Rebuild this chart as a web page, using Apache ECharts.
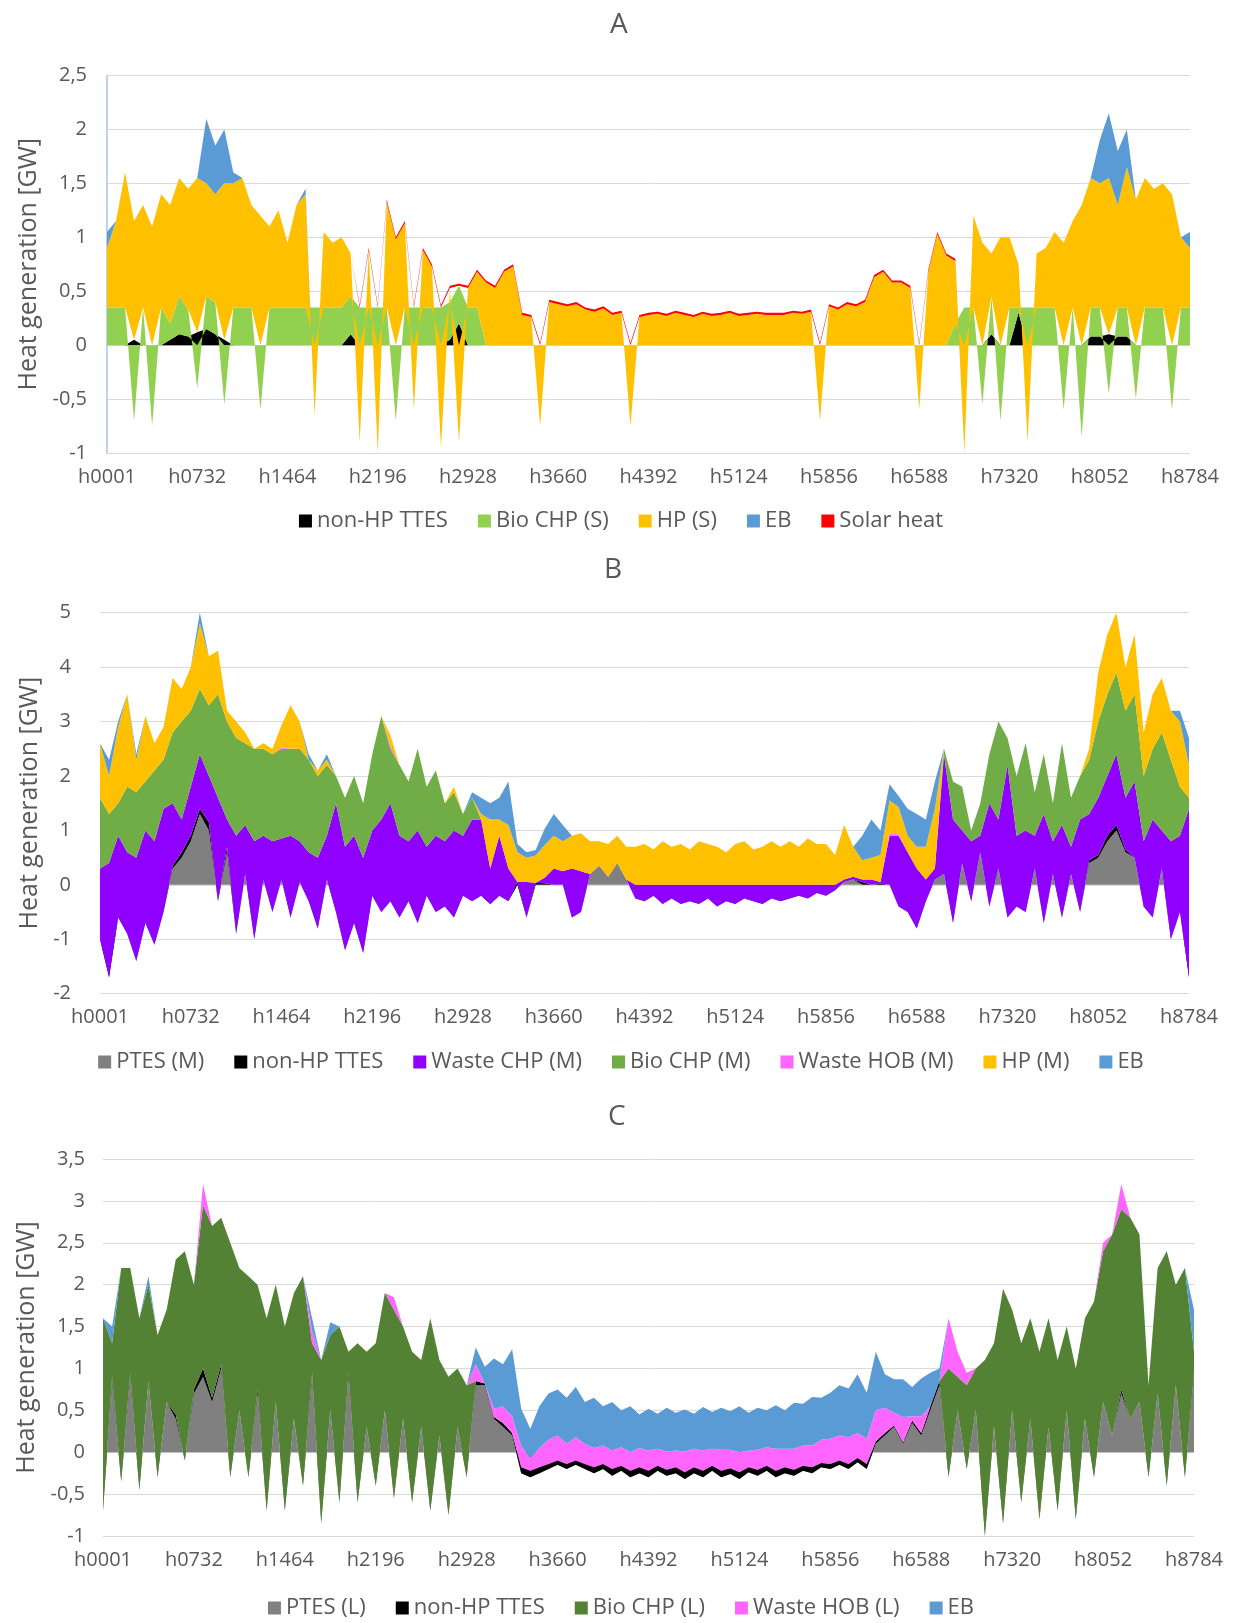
<!DOCTYPE html>
<html>
<head>
<meta charset="utf-8">
<script src="https://cdn.jsdelivr.net/npm/echarts@6/dist/echarts.min.js"></script>
<style>
  html, body { margin: 0; padding: 0; background: #fff; }
  #chart { width: 1242px; height: 1623px; }
</style>
</head>
<body>
<div id="chart"></div>
<script>
// x ticks every 732 h, 10 sampled points per tick step (121 points over the year)
const hourTicks = ['h0001', 'h0732', 'h1464', 'h2196', 'h2928', 'h3660', 'h4392',
  'h5124', 'h5856', 'h6588', 'h7320', 'h8052', 'h8784'];

// ---------- A (small system) ----------
const aTTES = [
  0, 0, 0, 0.05, 0, 0, 0, 0.05, 0.1, 0.08,
  0.12, 0.15, 0.1, 0.05, 0, 0, 0, 0, 0, 0,
  0, 0, 0, 0, 0, 0, 0, 0.1, 0, 0,
  0, 0, 0, 0, 0, 0, 0, 0, 0.05, 0.2,
  0, 0, 0, 0, 0, 0, 0, 0, 0, 0,
  0, 0, 0, 0, 0, 0, 0, 0, 0, 0,
  0, 0, 0, 0, 0, 0, 0, 0, 0, 0,
  0, 0, 0, 0, 0, 0, 0, 0, 0, 0,
  0, 0, 0, 0, 0, 0, 0, 0, 0, 0,
  0, 0, 0, 0, 0, 0, 0, 0, 0.1, 0,
  0, 0.3, 0, 0, 0, 0, 0, 0, 0, 0.08,
  0.08, 0.1, 0.08, 0.08, 0, 0, 0, 0, 0, 0,
  0
];
const aBio = [
  0.35, 0.35, 0.35, -0.7, 0.35, -0.75, 0.35, 0.15, 0.35, 0.25,
  -0.4, 0.3, 0.3, -0.55, 0.35, 0.35, 0.35, -0.6, 0.35, 0.35,
  0.35, 0.35, 0.35, 0.35, 0.35, 0.35, 0.35, 0.35, 0.35, 0.35,
  0.35, 0.35, -0.7, 0.35, 0.35, 0.35, 0.35, 0.35, 0.35, 0.35,
  0.35, 0.35, 0, 0, 0, 0, 0, 0, 0, 0,
  0, 0, 0, 0, 0, 0, 0, 0, 0, 0,
  0, 0, 0, 0, 0, 0, 0, 0, 0, 0,
  0, 0, 0, 0, 0, 0, 0, 0, 0, 0,
  0, 0, 0, 0, 0, 0, 0, 0, 0, 0,
  0, 0, 0, 0, 0.2, 0.35, 0.35, -0.55, 0.35, -0.7,
  0.35, 0.05, 0.35, 0.35, 0.35, 0.35, -0.6, 0.35, -0.85, 0.27,
  0.27, -0.45, 0.27, 0.27, -0.5, 0.35, 0.35, 0.35, -0.6, 0.35,
  0.35
];
const aHP = [
  0.55, 0.8, 1.25, 1.1, 0.95, 1.1, 1.05, 1.1, 1.1, 1.12,
  1.43, 1.05, 1.0, 1.45, 1.15, 1.2, 0.95, 1.2, 0.75, 0.9,
  0.6, 0.95, 1.05, -0.65, 0.7, 0.6, 0.65, 0.4, -0.9, 0.53,
  -1.0, 0.98, 0.98, 0.78, -0.6, 0.53, 0.38, -0.95, 0.13, -0.9,
  0.18, 0.33, 0.58, 0.53, 0.68, 0.73, 0.28, 0.26, -0.75, 0.4,
  0.38, 0.36, 0.38, 0.33, 0.31, 0.34, 0.28, 0.3, -0.75, 0.26,
  0.28, 0.29, 0.27, 0.3, 0.28, 0.26, 0.29, 0.27, 0.28, 0.3,
  0.27, 0.28, 0.29, 0.28, 0.28, 0.28, 0.3, 0.29, 0.31, -0.7,
  0.36, 0.33, 0.38, 0.36, 0.4, 0.63, 0.68, 0.58, 0.58, 0.53,
  -0.6, 0.68, 1.03, 0.83, 0.58, -1.0, 0.85, 0.95, 0.4, 1.0,
  0.65, 0.4, -0.9, 0.5, 0.55, 0.7, 0.95, 0.8, 1.3, 1.2,
  1.15, 1.45, 0.95, 1.3, 1.35, 1.2, 1.1, 1.15, 1.4, 0.65,
  0.55
];
const aEB = [
  0.15, 0, 0, 0, 0, 0, 0, 0, 0, 0,
  0, 0.6, 0.45, 0.5, 0.1, 0, 0, 0, 0, 0,
  0, 0, 0.05, 0, 0, 0, 0, 0, 0, 0,
  0, 0, 0, 0, 0, 0, 0, 0, 0, 0,
  0, 0, 0, 0, 0, 0, 0, 0, 0, 0,
  0, 0, 0, 0, 0, 0, 0, 0, 0, 0,
  0, 0, 0, 0, 0, 0, 0, 0, 0, 0,
  0, 0, 0, 0, 0, 0, 0, 0, 0, 0,
  0, 0, 0, 0, 0, 0, 0, 0, 0, 0,
  0, 0, 0, 0, 0, 0, 0, 0, 0, 0,
  0, 0, 0, 0, 0, 0, 0, 0, 0, 0,
  0.4, 0.6, 0.5, 0.35, 0, 0, 0, 0, 0, 0,
  0.15
];
const aSolar = [
  0, 0, 0, 0, 0, 0, 0, 0, 0, 0,
  0, 0, 0, 0, 0, 0, 0, 0, 0, 0,
  0, 0, 0, 0, 0, 0, 0, 0, 0.02, 0.02,
  0.02, 0.02, 0.02, 0.02, 0.02, 0.02, 0.02, 0.02, 0.02, 0.02,
  0.02, 0.02, 0.02, 0.02, 0.02, 0.02, 0.02, 0.02, 0.02, 0.02,
  0.02, 0.02, 0.02, 0.02, 0.02, 0.02, 0.02, 0.02, 0.02, 0.02,
  0.02, 0.02, 0.02, 0.02, 0.02, 0.02, 0.02, 0.02, 0.02, 0.02,
  0.02, 0.02, 0.02, 0.02, 0.02, 0.02, 0.02, 0.02, 0.02, 0.02,
  0.02, 0.02, 0.02, 0.02, 0.02, 0.02, 0.02, 0.02, 0.02, 0.02,
  0.02, 0.02, 0.02, 0.02, 0.02, 0, 0, 0, 0, 0,
  0, 0, 0, 0, 0, 0, 0, 0, 0, 0,
  0, 0, 0, 0, 0, 0, 0, 0, 0, 0,
  0
];

// ---------- B (medium system) ----------
const bPTES = [
  -1.0, -1.5, -0.6, -0.9, -1.4, -0.7, -1.1, -0.5, 0.3, 0.5,
  0.8, 1.3, 1.0, -0.3, 0.6, -0.9, 0.2, -1.0, 0.1, -0.5,
  0.1, -0.6, 0.05, -0.3, -0.8, 0.1, -0.5, -1.2, -0.7, -1.25,
  -0.2, -0.5, -0.3, -0.6, -0.3, -0.7, -0.2, -0.5, -0.4, -0.6,
  -0.2, -0.3, -0.2, -0.3, -0.2, -0.3, 0, -0.6, 0, 0,
  0, 0, -0.6, -0.5, 0.2, 0.35, 0.15, 0.4, 0.1, -0.25,
  -0.3, -0.2, -0.35, -0.25, -0.35, -0.3, -0.35, -0.25, -0.4, -0.3,
  -0.35, -0.25, -0.3, -0.35, -0.25, -0.3, -0.25, -0.2, -0.25, -0.15,
  -0.2, -0.1, 0.05, 0.1, 0, 0, 0, 0, -0.4, -0.5,
  -0.8, -0.3, 0.1, 0.2, -0.7, 0.4, -0.3, 0.6, -0.4, 0.3,
  -0.6, -0.4, -0.5, 0.3, -0.7, 0.2, -0.6, 0.2, -0.5, 0.4,
  0.5, 0.8, 1.0, 0.6, 0.5, -0.4, -0.6, 0.3, -1.0, -0.5,
  -1.6
];
const bTTES = [
  0, -0.2, 0, 0, 0, 0, 0, 0, 0.05, 0.1,
  0.1, 0.1, 0.15, 0, 0.1, 0, 0, 0, 0, 0,
  0, 0, 0, 0, 0, 0, 0, 0, 0, 0,
  0, 0, 0, 0, 0, 0, 0, 0, 0, 0,
  0, 0, 0, -0.05, 0, 0, 0.05, 0, 0.04, 0.03,
  0, 0, 0, 0, 0, 0, 0, 0, 0, 0,
  0, 0, 0, 0, 0, 0, 0, 0, 0, 0,
  0, 0, 0, 0, 0, 0, 0, 0, 0, 0,
  0, 0, 0, 0, 0.05, 0, 0.02, 0, 0, 0,
  0, 0, 0, 0, 0, 0, 0, 0, 0, 0,
  0, 0, 0, 0, 0, 0, 0, 0, 0, 0.05,
  0.05, 0.1, 0.1, 0.05, 0, 0, 0, 0, 0, 0,
  -0.1
];
const bWasteCHP = [
  1.3, 2.1, 1.5, 1.5, 1.9, 1.7, 1.9, 1.9, 1.15, 0.6,
  0.9, 1.0, 0.85, 1.9, 0.5, 1.8, 0.9, 1.8, 0.8, 1.3,
  0.75, 1.5, 0.75, 0.9, 1.3, 0.8, 2.0, 1.9, 1.6, 1.75,
  1.2, 1.7, 1.8, 1.5, 1.1, 1.7, 0.9, 1.4, 1.2, 1.6,
  1.1, 1.5, 1.4, 0.65, 1.1, 0.6, 0, 0.65, 0, 0.1,
  0.3, 0.25, 0.9, 0.75, 0, 0, 0, 0, 0, 0.25,
  0.3, 0.2, 0.35, 0.25, 0.35, 0.3, 0.35, 0.25, 0.4, 0.3,
  0.35, 0.25, 0.3, 0.35, 0.25, 0.3, 0.25, 0.2, 0.25, 0.15,
  0.2, 0.1, 0.05, 0.05, 0.05, 0.1, 0.03, 0.9, 1.3, 1.1,
  1.1, 0.4, 0.2, 2.2, 1.9, 0.6, 1.1, 0.3, 1.9, 0.9,
  2.8, 1.3, 1.5, 0.6, 2.0, 0.6, 1.7, 0.5, 1.7, 0.85,
  1.05, 1.1, 1.3, 0.95, 1.4, 1.2, 1.8, 0.7, 1.8, 1.4,
  3.1
];
const bBio = [
  1.3, 0.9, 0.6, 1.2, 1.2, 0.9, 1.3, 0.9, 1.3, 1.8,
  1.4, 1.2, 1.3, 1.9, 1.8, 1.8, 1.5, 1.7, 1.6, 1.6,
  1.65, 1.6, 1.7, 1.7, 1.5, 1.3, 0.5, 0.9, 1.1, 1.0,
  1.4, 1.9, 1.0, 1.3, 1.1, 1.5, 1.1, 1.2, 0.7, 0.7,
  0.4, 0.4, 0, 0, 0, 0, 0, 0, 0, 0,
  0, 0, 0, 0, 0, 0, 0, 0, 0, 0,
  0, 0, 0, 0, 0, 0, 0, 0, 0, 0,
  0, 0, 0, 0, 0, 0, 0, 0, 0, 0,
  0, 0, 0, 0, 0, 0, 0, 0, 0, 0,
  0, 0, 0, 0.1, 0.7, 0.8, 0.2, 0.6, 0.9, 1.8,
  0.5, 1.1, 1.6, 0.8, 1.1, 0.7, 1.5, 0.9, 0.8, 1.0,
  1.4, 1.5, 1.5, 1.6, 1.6, 1.2, 1.3, 1.8, 1.5, 0.9,
  0.2
];
const bWasteHOB = [
  0, 0, 0, 0, 0, 0, 0, 0, 0, 0,
  0, 0, 0, 0, 0, 0, 0, 0, 0, 0,
  0.03, 0, 0, 0, 0, 0, 0, 0, 0, 0,
  0, 0, 0.05, 0, 0, 0, 0, 0, 0, 0,
  0, 0, 0, 0, 0, 0, 0, 0, 0, 0,
  0, 0, 0, 0, 0, 0, 0, 0, 0, 0,
  0, 0, 0, 0, 0, 0, 0, 0, 0, 0,
  0, 0, 0, 0, 0, 0, 0, 0, 0, 0,
  0, 0, 0, 0, 0, 0, 0, 0.05, 0.03, 0,
  0, 0, 0, 0, 0, 0, 0, 0, 0, 0,
  0, 0, 0, 0, 0, 0, 0, 0, 0, 0,
  0, 0, 0, 0, 0, 0, 0, 0, 0, 0,
  0
];
const bHP = [
  1.0, 0.7, 1.4, 1.7, 0.6, 1.2, 0.5, 0.6, 1.0, 0.6,
  0.8, 1.2, 0.9, 0.8, 0.2, 0.3, 0.2, 0, 0.1, 0.1,
  0.4, 0.8, 0.5, 0, 0.1, 0.1, 0, 0, 0, 0,
  0, 0, 0.2, 0, 0, 0, 0, 0, 0, 0.1,
  0, 0, 0.1, 0.9, 0.3, 0.8, 0.55, 0.45, 0.5, 0.6,
  0.6, 0.55, 0.6, 0.7, 0.6, 0.45, 0.6, 0.5, 0.6, 0.7,
  0.75, 0.65, 0.8, 0.7, 0.75, 0.65, 0.8, 0.75, 0.7, 0.6,
  0.75, 0.8, 0.65, 0.7, 0.8, 0.7, 0.8, 0.7, 0.85, 0.75,
  0.75, 0.55, 1.0, 0.55, 0.35, 0.4, 0.5, 0.6, 0.5, 0.3,
  0.4, 0.6, 1.1, 0, 0, 0, 0, 0, 0, 0,
  0, 0, 0, 0, 0, 0, 0, 0, 0, 0.2,
  0.9, 1.1, 1.1, 0.8, 1.1, 0.8, 1.0, 1.0, 0.9, 1.2,
  0.6
];
const bEB = [
  0, 0.3, 0.1, 0, 0.1, 0, 0, 0, 0, 0,
  0, 0.2, 0, 0, 0, 0, 0, 0, 0, 0,
  0, 0, 0, 0.1, 0, 0.1, 0, 0, 0, 0,
  0, 0, 0, 0, 0, 0, 0, 0, 0, 0,
  0, 0.1, 0.3, 0.3, 0.4, 0.8, 0.15, 0.1, 0.1, 0.3,
  0.4, 0.3, 0, 0, 0, 0, 0, 0, 0, 0,
  0, 0, 0, 0, 0, 0, 0, 0, 0, 0,
  0, 0, 0, 0, 0, 0, 0, 0, 0, 0,
  0, 0, 0, 0, 0.45, 0.7, 0.45, 0.3, 0.2, 0.5,
  0.6, 0.5, 0.5, 0, 0, 0, 0, 0, 0, 0,
  0, 0, 0, 0, 0, 0, 0, 0, 0, 0,
  0, 0, 0, 0, 0, 0, 0, 0, 0, 0.2,
  0.5
];

// ---------- C (large system) ----------
const cPTES = [
  -0.7, 0.85, -0.35, 0.9, -0.45, 0.85, -0.3, 0.6, 0.4, -0.1,
  0.7, 0.9, 0.6, 1.0, -0.3, 0.5, -0.3, 0.7, -0.7, 0.6,
  -0.7, 0.4, -0.4, 0.9, -0.85, 0.5, -0.6, 0.9, -0.6, 0.3,
  -0.4, 0.5, -0.55, 0.4, -0.6, 0.3, -0.7, 0.2, -0.75, 0.3,
  -0.3, 0.8, 0.8, 0.4, 0.3, 0.2, -0.25, -0.3, -0.25, -0.2,
  -0.15, -0.2, -0.15, -0.2, -0.25, -0.2, -0.28, -0.22, -0.3, -0.25,
  -0.3, -0.22, -0.28, -0.25, -0.32, -0.25, -0.3, -0.22, -0.3, -0.26,
  -0.32, -0.24, -0.28, -0.22, -0.3, -0.25, -0.28, -0.22, -0.25, -0.18,
  -0.2, -0.15, -0.2, -0.12, -0.2, 0.1, 0.2, 0.3, 0.1, 0.35,
  0.2, 0.5, 0.8, -0.3, 0.5, -0.2, 0.5, -1.0, 0.3, -0.85,
  0.5, -0.6, 0.4, -0.8, 0.3, -0.7, 0.5, -0.8, 0.4, -0.3,
  0.6, 0.2, 0.7, 0.4, 0.6, -0.3, 0.7, -0.4, 0.8, -0.3,
  0.9
];
const cTTES = [
  0, 0.05, 0, 0.05, 0, 0, 0, 0, 0.05, 0,
  0.05, 0.1, 0.05, 0.05, 0, 0, 0, 0.05, 0, 0,
  0, 0, 0, 0.05, 0, 0, 0, 0.05, 0, 0,
  0, 0, 0, 0, 0, 0, 0, 0, 0, 0,
  0, 0.05, 0.02, 0.02, 0.05, 0.03, 0.07, 0.08, 0.07, 0.06,
  0.05, 0.06, 0.05, 0.06, 0.07, 0.06, 0.08, 0.06, 0.08, 0.07,
  0.08, 0.06, 0.07, 0.07, 0.08, 0.07, 0.08, 0.06, 0.08, 0.07,
  0.08, 0.06, 0.07, 0.06, 0.08, 0.07, 0.07, 0.06, 0.07, 0.05,
  0.06, 0.05, 0.06, 0.05, 0.06, 0.03, 0.03, 0.02, 0.02, 0.03,
  0.03, 0.05, 0.05, 0, 0, 0, 0, 0, 0, 0,
  0, 0, 0, 0, 0, 0, 0, 0, 0, 0,
  0, 0, 0.05, 0, 0, 0, 0, 0, 0, 0,
  0.05
];
const cBio = [
  2.3, 0.4, 2.55, 1.25, 2.05, 1.15, 1.7, 1.1, 1.85, 2.5,
  1.25, 1.95, 2.05, 1.75, 2.8, 1.7, 2.4, 1.25, 2.3, 1.4,
  2.2, 1.5, 2.5, 0.35, 1.95, 0.9, 2.1, 0.25, 1.9, 0.9,
  1.7, 1.4, 2.25, 1.1, 1.8, 0.8, 2.3, 0.9, 1.65, 0.7,
  1.1, 0, 0, 0, 0, 0, 0, 0, 0, 0,
  0, 0, 0, 0, 0, 0, 0, 0, 0, 0,
  0, 0, 0, 0, 0, 0, 0, 0, 0, 0,
  0, 0, 0, 0, 0, 0, 0, 0, 0, 0,
  0, 0, 0, 0, 0, 0, 0, 0, 0, 0,
  0, 0, 0, 1.3, 0.4, 1.0, 0.5, 2.1, 1.0, 2.8,
  1.2, 1.9, 1.2, 2.0, 1.3, 1.8, 1.0, 1.8, 1.2, 2.1,
  1.8, 2.4, 2.15, 2.4, 2.0, 1.1, 1.5, 2.8, 1.2, 2.5,
  0.25
];
const cWasteHOB = [
  0, 0, 0, 0, 0, 0, 0, 0, 0, 0,
  0, 0.25, 0, 0, 0, 0, 0, 0, 0, 0,
  0, 0, 0, 0.15, 0, 0, 0, 0, 0, 0,
  0, 0, 0.15, 0, 0, 0, 0, 0, 0, 0,
  0, 0.2, 0, 0.1, 0.2, 0.2, 0.25, 0.15, 0.23, 0.29,
  0.3, 0.24, 0.28, 0.24, 0.23, 0.22, 0.22, 0.22, 0.22, 0.23,
  0.24, 0.2, 0.22, 0.2, 0.25, 0.22, 0.24, 0.2, 0.25, 0.22,
  0.24, 0.2, 0.24, 0.22, 0.26, 0.22, 0.25, 0.24, 0.26, 0.28,
  0.3, 0.3, 0.32, 0.3, 0.3, 0.37, 0.3, 0.15, 0.3, 0.05,
  0.2, 0, 0, 0.6, 0.3, 0.15, 0, 0, 0, 0,
  0, 0, 0, 0, 0, 0, 0, 0, 0, 0,
  0.1, 0, 0.3, 0, 0, 0, 0, 0, 0, 0,
  0
];
const cEB = [
  0, 0.2, 0, 0, 0, 0.1, 0, 0, 0, 0,
  0, 0, 0, 0, 0, 0, 0, 0, 0, 0,
  0, 0, 0, 0.15, 0, 0.15, 0, 0, 0, 0,
  0, 0, 0, 0, 0, 0, 0, 0, 0, 0,
  0, 0.2, 0.2, 0.6, 0.5, 0.8, 0.45, 0.35, 0.5, 0.55,
  0.55, 0.55, 0.6, 0.5, 0.6, 0.47, 0.58, 0.44, 0.55, 0.4,
  0.5, 0.42, 0.52, 0.45, 0.5, 0.42, 0.52, 0.44, 0.5, 0.46,
  0.55, 0.45, 0.5, 0.44, 0.52, 0.46, 0.55, 0.5, 0.58, 0.5,
  0.55, 0.6, 0.58, 0.7, 0.55, 0.7, 0.4, 0.4, 0.45, 0.35,
  0.45, 0.4, 0.15, 0, 0, 0, 0, 0, 0, 0,
  0, 0, 0, 0, 0, 0, 0, 0, 0, 0,
  0, 0, 0, 0, 0, 0, 0, 0, 0, 0,
  0.5
];

const points = aHP.map((v, i) => i);

const FONT = "'Open Sans', 'Noto Sans', sans-serif";
const GREY = '#595959';
const comma = v => String(v).replace('.', ',');

function makeX(gi) {
  return {
    type: 'category', gridIndex: gi, data: points, boundaryGap: false,
    axisLine: { show: false }, axisTick: { show: false }, splitLine: { show: false },
    axisLabel: {
      interval: 9, color: GREY, fontSize: 20, fontFamily: FONT, margin: 14,
      formatter: (v, idx) => hourTicks[idx / 10]
    }
  };
}

function makeY(gi, min, max, step, labelMargin, nameGap, axisLine) {
  return {
    type: 'value', gridIndex: gi, min: min, max: max, interval: step,
    name: 'Heat generation [GW]', nameLocation: 'middle', nameGap: nameGap,
    nameTextStyle: { color: GREY, fontSize: 25, fontFamily: FONT },
    axisLine: axisLine ? { show: true, lineStyle: { color: '#a6c6e6', width: 1.5 } } : { show: false },
    axisTick: { show: false },
    axisLabel: { color: GREY, fontSize: 20, fontFamily: FONT, margin: labelMargin, formatter: comma },
    splitLine: { lineStyle: { color: '#d9d9d9', width: 1 } }
  };
}

function area(name, data, color, gi, strategy) {
  return {
    name: name, type: 'line', data: data, xAxisIndex: gi, yAxisIndex: gi,
    stack: 'g' + gi, stackStrategy: strategy,
    symbol: 'none', showSymbol: false, lineStyle: { width: 0 },
    areaStyle: { color: color, opacity: 1 }, itemStyle: { color: color },
    emphasis: { disabled: true }, silent: true
  };
}

const legendBase = {
  icon: 'rect', itemWidth: 13, itemHeight: 13, itemGap: 30, left: 'center',
  textStyle: { color: GREY, fontSize: 22, fontFamily: FONT }, selectedMode: false
};
const titleBase = { textStyle: { color: GREY, fontSize: 28, fontWeight: 'normal', fontFamily: FONT } };

const chart = echarts.init(document.getElementById('chart'), null, { renderer: 'canvas' });
chart.setOption({
  animation: false,
  backgroundColor: '#ffffff',
  title: [
    Object.assign({ text: 'A', left: 605, top: 6 }, titleBase),
    Object.assign({ text: 'B', left: 599, top: 551 }, titleBase),
    Object.assign({ text: 'C', left: 603, top: 1098 }, titleBase)
  ],
  legend: [
    Object.assign({ top: 505, data: ['non-HP TTES', 'Bio CHP (S)', 'HP (S)', 'EB', 'Solar heat'] }, legendBase),
    Object.assign({ top: 1046, data: ['PTES (M)', 'non-HP TTES', 'Waste CHP (M)', 'Bio CHP (M)', 'Waste HOB (M)', 'HP (M)', 'EB'] }, legendBase),
    Object.assign({ top: 1592, data: ['PTES (L)', 'non-HP TTES', 'Bio CHP (L)', 'Waste HOB (L)', 'EB'] }, legendBase)
  ],
  grid: [
    { left: 107, right: 52, top: 75.5, height: 377.5 },
    { left: 100, right: 53, top: 612.7, height: 381 },
    { left: 103, right: 48, top: 1159, height: 377 }
  ],
  xAxis: [makeX(0), makeX(1), makeX(2)],
  yAxis: [
    makeY(0, -1, 2.5, 0.5, 20, 57, true),
    makeY(1, -2, 5, 1, 29, 49, false),
    makeY(2, -1, 3.5, 0.5, 18, 59, false)
  ],
  series: [
    area('non-HP TTES', aTTES, '#000000', 0, 'samesign'),
    area('Bio CHP (S)', aBio, '#92d050', 0, 'samesign'),
    area('HP (S)', aHP, '#ffc000', 0, 'samesign'),
    area('EB', aEB, '#5b9bd5', 0, 'samesign'),
    area('Solar heat', aSolar, '#ff0000', 0, 'samesign'),

    area('PTES (M)', bPTES, '#808080', 1, 'all'),
    area('non-HP TTES', bTTES, '#000000', 1, 'all'),
    area('Waste CHP (M)', bWasteCHP, '#9000ff', 1, 'all'),
    area('Bio CHP (M)', bBio, '#70ad47', 1, 'all'),
    area('Waste HOB (M)', bWasteHOB, '#ff66ff', 1, 'all'),
    area('HP (M)', bHP, '#ffc000', 1, 'all'),
    area('EB', bEB, '#5b9bd5', 1, 'all'),

    area('PTES (L)', cPTES, '#808080', 2, 'all'),
    area('non-HP TTES', cTTES, '#000000', 2, 'all'),
    area('Bio CHP (L)', cBio, '#548235', 2, 'all'),
    area('Waste HOB (L)', cWasteHOB, '#ff66ff', 2, 'all'),
    area('EB', cEB, '#5b9bd5', 2, 'all')
  ]
});
</script>
</body>
</html>
